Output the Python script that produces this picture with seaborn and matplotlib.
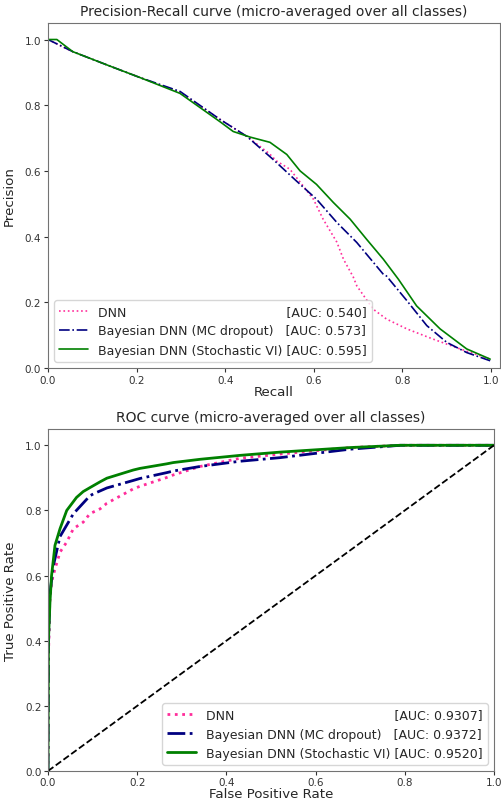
import numpy as np
import pandas as pd
import matplotlib
matplotlib.use("Agg")
import matplotlib.pyplot as plt
import seaborn as sns

# model names and AUC scores
models = ["DNN", "Bayesian DNN (MC dropout)", "Bayesian DNN (Stochastic VI)"]
pr_auc = ["0.540", "0.573", "0.595"]
roc_auc = ["0.9307", "0.9372", "0.9520"]
# padding so the AUC columns line up (DejaVu Sans)
pads = [40, 3, 1]

# precision-recall curves
pr_dnn_recall = [0.0, 0.056, 0.14, 0.208, 0.298, 0.388, 0.449, 0.50, 0.516, 0.546, 0.576, 0.599,
                 0.621, 0.652, 0.667, 0.689, 0.697, 0.734, 0.764, 0.810, 0.869, 0.93, 0.998]
pr_dnn_prec = [1.0, 0.963, 0.919, 0.884, 0.839, 0.757, 0.705, 0.652, 0.630, 0.605, 0.554, 0.514,
               0.453, 0.383, 0.331, 0.277, 0.250, 0.179, 0.149, 0.119, 0.088, 0.058, 0.027]
pr_mc_recall = [0.0, 0.056, 0.14, 0.208, 0.298, 0.388, 0.449, 0.508, 0.561, 0.606, 0.652, 0.697,
                0.757, 0.764, 0.81, 0.855, 0.9, 0.945, 0.998]
pr_mc_prec = [1.0, 0.963, 0.919, 0.884, 0.842, 0.757, 0.705, 0.635, 0.569, 0.514, 0.443, 0.382,
              0.285, 0.28, 0.205, 0.129, 0.078, 0.047, 0.022]
pr_vi_recall = [0.0, 0.02, 0.056, 0.14, 0.208, 0.298, 0.388, 0.418, 0.456, 0.501, 0.539, 0.569,
                0.606, 0.644, 0.682, 0.719, 0.757, 0.791, 0.832, 0.885, 0.945, 0.998]
pr_vi_prec = [1.0, 1.0, 0.963, 0.919, 0.884, 0.836, 0.750, 0.72, 0.703, 0.687, 0.650, 0.600,
              0.559, 0.504, 0.453, 0.392, 0.331, 0.270, 0.189, 0.119, 0.058, 0.027]

# ROC curves
roc_dnn_fpr = [0.0, 0.001, 0.004, 0.008, 0.016, 0.027, 0.042, 0.057, 0.079, 0.094, 0.117, 0.132,
               0.191, 0.206, 0.266, 0.281, 0.341, 0.43, 0.52, 0.677, 0.79, 1.0]
roc_dnn_tpr = [0.0, 0.35, 0.52, 0.58, 0.622, 0.672, 0.703, 0.744, 0.764, 0.790, 0.805, 0.822,
               0.866, 0.874, 0.901, 0.909, 0.935, 0.960, 0.973, 0.993, 1.0, 1.0]
roc_mc_fpr = [0.0, 0.001, 0.004, 0.012, 0.027, 0.057, 0.094, 0.102, 0.132, 0.191, 0.206, 0.266,
              0.281, 0.341, 0.43, 0.52, 0.677, 0.79, 1.0]
roc_mc_tpr = [0.0, 0.38, 0.54, 0.63, 0.72, 0.790, 0.845, 0.851, 0.869, 0.892, 0.898, 0.916,
              0.921, 0.935, 0.951, 0.962, 0.988, 1.0, 1.0]
roc_vi_fpr = [0.0, 0.001, 0.0045, 0.008, 0.0157, 0.027, 0.042, 0.064, 0.079, 0.094, 0.117, 0.132,
              0.191, 0.206, 0.266, 0.281, 0.341, 0.43, 0.52, 0.677, 0.79, 1.0]
roc_vi_tpr = [0.0, 0.40, 0.52, 0.60, 0.693, 0.744, 0.800, 0.840, 0.858, 0.870, 0.888, 0.899,
              0.924, 0.929, 0.943, 0.947, 0.957, 0.969, 0.979, 0.993, 1.0, 1.0]

colors = ["#ff2d9b", "navy", "green"]
styles = [":", "-.", "-"]

sns.set_style("ticks", {"axes.edgecolor": "0.45", "xtick.color": "0.2", "ytick.color": "0.2"})
plt.rcParams['font.family'] = ['DejaVu Sans']

fig = plt.figure(figsize=(5.01, 8.03), dpi=100)
ax1 = fig.add_axes([0.0958, 0.5405, 0.902, 0.4295])
ax2 = fig.add_axes([0.0958, 0.0386, 0.8902, 0.4259])

# 1] precision-recall
pr_data = [(pr_dnn_recall, pr_dnn_prec), (pr_mc_recall, pr_mc_prec), (pr_vi_recall, pr_vi_prec)]
for i, (r, p) in enumerate(pr_data):
    df = pd.DataFrame({"Recall": r, "Precision": p})
    label = models[i] + " " * pads[i] + "[AUC: " + pr_auc[i] + "]"
    sns.lineplot(x="Recall", y="Precision", data=df, sort=False, estimator=None, ax=ax1,
                 color=colors[i], linestyle=styles[i], linewidth=1.2, label=label)
ax1.set_xlim(0.0, 1.02)
ax1.set_ylim(0.0, 1.05)
ax1.set_title("Precision-Recall curve (micro-averaged over all classes)", fontsize=10)
ax1.set_xlabel("Recall", fontsize=9.6, labelpad=0)
ax1.set_ylabel("Precision", fontsize=9.6, labelpad=6)
ax1.tick_params(labelsize=7.5, length=3, pad=2)
ax1.legend(loc="lower left", fontsize=9, handlelength=2.3)

# 2] ROC
roc_data = [(roc_dnn_fpr, roc_dnn_tpr), (roc_mc_fpr, roc_mc_tpr), (roc_vi_fpr, roc_vi_tpr)]
for i, (f, t) in enumerate(roc_data):
    df = pd.DataFrame({"fpr": f, "tpr": t})
    label = models[i] + " " * pads[i] + "[AUC: " + roc_auc[i] + "]"
    sns.lineplot(x="fpr", y="tpr", data=df, sort=False, estimator=None, ax=ax2,
                 color=colors[i], linestyle=styles[i], linewidth=2, label=label)
ax2.plot([0, 1], [0, 1], "k--", linewidth=1.3)
ax2.set_xlim(0.0, 1.0)
ax2.set_ylim(0.0, 1.05)
ax2.set_title("ROC curve (micro-averaged over all classes)", fontsize=10)
ax2.set_xlabel("False Positive Rate", fontsize=9.6, labelpad=0)
ax2.set_ylabel("True Positive Rate", fontsize=9.6, labelpad=6)
ax2.tick_params(labelsize=7.5, length=3, pad=1.5)
ax2.legend(loc="lower right", fontsize=9, handlelength=2.3)

fig.savefig("out.png", dpi=100)
